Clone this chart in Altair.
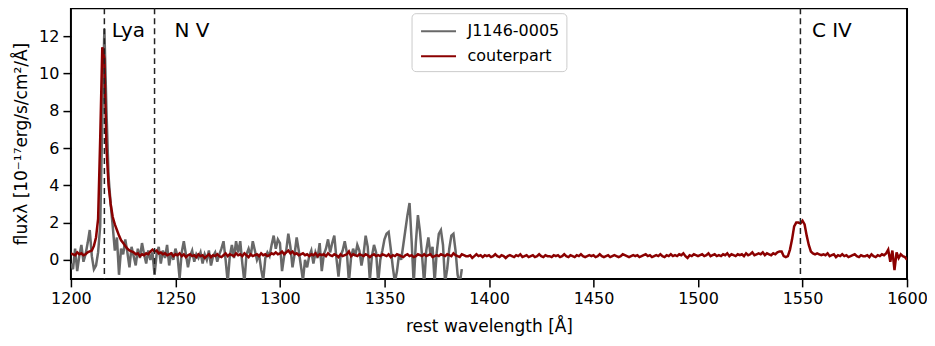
import altair as alt
import pandas as pd

# ---- data ----
grey_start = 1200
grey_flux = [
    -0.2, -0.5, 0.6, -0.6, 0.2, 0.8, -0.1, 0.3, 0.9, 1.6,
    0.2, -0.5, -0.3, 0.4, 1.8, 7.5, 12.4, 8.0, 4.5, 3.0,
    1.8, 0.5, 1.2, -0.8, 0.6, 0.3, 1.1, 0.4, -0.4, 0.7,
    0.2, -0.3, 0.6, 0.1, 0.9, 0.3, -0.2, 0.5, 0.0, 0.4,
    -0.8, 0.3, 0.7, -0.2, 0.5, 0.1, 0.8, -0.3, 0.4, 0.0,
    0.6, 0.2, -1.0, 0.4, 1.0, 0.3, -0.4, 0.2, 0.5, -0.1,
    0.3, 0.1, 0.4, -0.2, 0.3, 0.0, 0.5, -0.3, 0.2, 0.4,
    -0.1, 0.3, 0.6, 1.0, 0.0, -1.2, 0.2, 0.8, 0.1, 1.0,
    0.4, 1.0, -0.2, -1.2, 0.3, 0.6, 0.2, 1.0, 0.5, 0.0,
    0.3, -0.5, -1.1, 0.1, 0.4, 0.2, 0.8, 1.3, 0.6, 1.1,
    0.9, -0.6, 0.2, 0.5, 1.4, 0.7, -0.4, 0.3, 1.2, 0.5,
    -0.3, -1.1, 0.0, -0.4, 0.2, 0.5, -0.2, 0.4, 0.1, 0.9,
    -0.6, 0.3, 0.6, 1.1, 0.4, 0.9, 1.3, 0.1, -0.9, 0.2,
    0.5, 1.0, 0.4, -1.2, 0.1, 0.6, 0.2, 0.8, 0.5, -0.3,
    0.3, 1.3, 0.7, -1.1, 0.2, 0.8, 0.4, -1.2, 0.0, 0.5,
    1.1, 1.4, 1.5, 0.6, -0.4, -1.2, -0.6, 0.3, 0.0, 0.8,
    1.6, 2.4, 3.05, 1.0, -1.3, 0.9, 2.4, 1.5, 0.2, -1.3,
    0.5, 1.2, 0.3, 0.7, -1.2, 0.4, 1.4, 1.6, 0.8, -1.2,
    -0.5, 0.6, 1.3, 1.4, 0.5, -0.8, -1.3, -0.5,
]

red_start = 1200
red_flux = [
    0.35, 0.3, 0.25, 0.4, 0.3, 0.35, 0.25, 0.3, 0.4, 0.45,
    0.5, 0.75, 1.2, 2.2, 6.5, 11.4, 10.8, 6.0, 4.0, 3.0,
    2.3, 1.9, 1.6, 1.3, 1.05, 0.9, 0.75, 0.6, 0.5, 0.45,
    0.4, 0.3, 0.35, 0.2, 0.3, 0.25, 0.35, 0.3, 0.45, 0.55,
    0.45, 0.5, 0.35, 0.4, 0.3, 0.35, 0.25, 0.3, 0.35, 0.2,
    0.3, 0.25, 0.35, 0.2, 0.3, 0.15, 0.25, 0.3, 0.2, 0.25,
    0.15, 0.3, 0.2, 0.25, 0.1, 0.2, 0.3, 0.15, 0.25, 0.2,
    0.3, 0.2, 0.15, 0.25, 0.35, 0.2, 0.3, 0.25, 0.2, 0.35,
    0.25, 0.3, 0.2, 0.35, 0.25, 0.15, 0.3, 0.2, 0.25, 0.3,
    0.2, 0.35, 0.25, 0.3, 0.2, 0.25, 0.35, 0.3, 0.4, 0.3,
    0.35, 0.45, 0.3, 0.4, 0.5, 0.35, 0.45, 0.3, 0.35, 0.25,
    0.3, 0.35, 0.25, 0.3, 0.2, 0.3, 0.25, 0.35, 0.2, 0.3,
    0.25, 0.3, 0.2, 0.35, 0.25, 0.2, 0.3, 0.25, 0.15, 0.3,
    0.2, 0.25, 0.3, 0.45, 0.2, 0.3, 0.25, 0.2, 0.3, 0.25,
    0.2, 0.3, 0.25, 0.15, 0.25, 0.3, 0.2, 0.25, 0.2, 0.3,
    0.25, 0.2, 0.3, 0.15, 0.25, 0.2, 0.3, 0.25, 0.2, 0.15,
    0.25, 0.3, 0.2, 0.25, 0.15, 0.2, 0.3, 0.25, 0.2, 0.3,
    0.2, 0.25, 0.3, 0.15, 0.2, 0.25, 0.2, 0.3, 0.25, 0.2,
    0.3, 0.25, 0.2, 0.35, 0.25, 0.2, 0.15, 0.3, 0.25, 0.2,
    0.2, 0.25, 0.1, 0.2, 0.3, 0.2, 0.25, 0.15, 0.25, 0.2,
    0.25, 0.15, 0.2, 0.3, 0.2, 0.15, 0.25, 0.2, 0.1, 0.2,
    0.25, 0.2, 0.15, 0.25, 0.2, 0.3, 0.15, 0.2, 0.25, 0.15,
    0.2, 0.25, 0.15, 0.2, 0.3, 0.2, 0.15, 0.25, 0.2, 0.2,
    0.15, 0.25, 0.2, 0.25, 0.15, 0.2, 0.3, 0.2, 0.15, 0.25,
    0.2, 0.15, 0.25, 0.2, 0.3, 0.2, 0.15, 0.2, 0.25, 0.2,
    0.25, 0.15, 0.2, 0.3, 0.2, 0.15, 0.2, 0.25, 0.15, 0.2,
    0.25, 0.2, 0.15, 0.2, 0.3, 0.25, 0.2, 0.15, 0.2, 0.25,
    0.2, 0.25, 0.15, 0.2, 0.25, 0.3, 0.2, 0.25, 0.15, 0.2,
    0.25, 0.2, 0.3, 0.2, 0.15, 0.25, 0.2, 0.3, 0.2, 0.25,
    0.2, 0.3, 0.25, 0.35, 0.2, 0.1, 0.25, 0.2, 0.3, 0.25,
    0.2, 0.25, 0.3, 0.2, 0.25, 0.35, 0.2, 0.25, 0.3, 0.2,
    0.25, 0.2, 0.3, 0.25, 0.35, 0.2, 0.3, 0.25, 0.2, 0.3,
    0.25, 0.3, 0.2, 0.35, 0.25, 0.3, 0.4, 0.25, 0.3, 0.35,
    0.3, 0.4, 0.25, 0.35, 0.3, 0.25, 0.35, 0.3, 0.4, 0.45,
    0.45, 0.2, 0.15, 0.2, 0.55, 1.1, 1.8, 2.0, 2.0, 1.95,
    2.1, 1.9, 1.3, 0.8, 0.45, 0.35, 0.3, 0.35, 0.3, 0.25,
    0.3, 0.25, 0.35, 0.2, 0.25, 0.3, 0.15, 0.25, 0.2, 0.3,
    0.2, 0.25, 0.15, 0.2, 0.25, 0.3, 0.2, 0.15, 0.25, 0.2,
    0.2, 0.25, 0.15, 0.3, 0.2, 0.15, 0.25, 0.2, 0.3, 0.25,
    0.35, 0.55, -0.1, 0.5, -0.55, 0.4, 0.1, 0.3, 0.2, 0.15,
    0.0,
]

series_names = ["J1146-0005", "couterpart"]
series_colors = ["#686868", "#8b0000"]

line_positions = [1216, 1240, 1549]
line_labels = ["Lya", "N V", "C IV"]
label_x = [1219.5, 1249.5, 1554.5]
label_y = [12.3, 12.3, 12.3]

x_ticks = [1200, 1250, 1300, 1350, 1400, 1450, 1500, 1550, 1600]
y_ticks = [0, 2, 4, 6, 8, 10, 12]

# ---- build tables ----
grey_df = pd.DataFrame({
    "wave": [grey_start + i for i in range(len(grey_flux))],
    "flux": grey_flux,
    "series": series_names[0],
})
red_df = pd.DataFrame({
    "wave": [red_start + i for i in range(len(red_flux))],
    "flux": red_flux,
    "series": series_names[1],
})
spec_df = pd.concat([grey_df, red_df], ignore_index=True)
spec_df["order"] = spec_df["series"].map({series_names[0]: 0, series_names[1]: 1})

vline_df = pd.DataFrame({"wave": line_positions})
label_df = pd.DataFrame({"wave": label_x, "flux": label_y, "text": line_labels})

FONT = "DejaVu Sans"

x_scale = alt.Scale(domain=[1200, 1600], nice=False, zero=False)
y_scale = alt.Scale(domain=[-1.02, 13.5], nice=False, zero=False)

x_axis = alt.Axis(values=x_ticks, title="rest wavelength [Å]", grid=False,
                  labelFlush=False, format="d")
y_axis = alt.Axis(values=y_ticks, title="fluxλ [10⁻¹⁷erg/s/cm²/Å]", grid=False)

spectra = alt.Chart(spec_df).mark_line(strokeWidth=2.5, clip=True).encode(
    x=alt.X("wave:Q", scale=x_scale, axis=x_axis),
    y=alt.Y("flux:Q", scale=y_scale, axis=y_axis),
    color=alt.Color(
        "series:N",
        scale=alt.Scale(domain=series_names, range=series_colors),
        legend=alt.Legend(
            title=None, orient="none", legendX=341, legendY=5,
            symbolType="M -1.75 0 L 1.75 0", symbolSize=400, symbolStrokeWidth=2,
            symbolOffset=9,
            labelFontSize=16, labelFont=FONT, labelColor="black",
            labelOffset=18, padding=7, rowPadding=6,
            strokeColor="#cccccc", fillColor="white", cornerRadius=4,
        ),
    ),
    detail="series:N",
    order="order:Q",
)

vlines = alt.Chart(vline_df).mark_rule(
    color="#222222", strokeWidth=1.5, strokeDash=[6, 4]
).encode(x=alt.X("wave:Q", scale=x_scale))

labels = alt.Chart(label_df).mark_text(
    align="left", baseline="middle", fontSize=20, font=FONT, color="black"
).encode(
    x=alt.X("wave:Q", scale=x_scale),
    y=alt.Y("flux:Q", scale=y_scale),
    text="text:N",
)

chart = alt.layer(spectra, vlines, labels).properties(
    width=837, height=271,
    autosize=alt.AutoSizeParams(type="none"),
    padding={"left": 63, "top": 0, "right": 20, "bottom": 60},
).configure_view(
    stroke="black", strokeWidth=2
).configure_axis(
    domain=False, tickColor="black", tickWidth=1.5, tickSize=8,
    labelFont=FONT, labelFontSize=16, labelColor="black", labelPadding=4,
    titleFont=FONT, titleFontSize=17, titleFontWeight="normal", titleColor="black",
).configure_axisX(titlePadding=12).configure_axisY(titlePadding=8)

chart.save("out.html", embed_options={"renderer": "svg", "actions": False})
